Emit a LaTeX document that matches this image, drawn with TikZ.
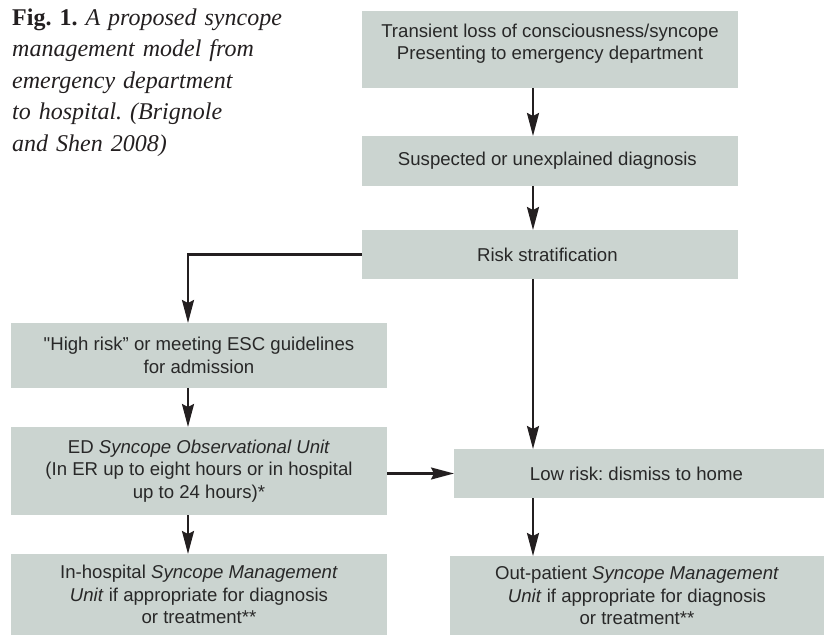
\documentclass[tikz,border=0pt]{standalone}
\usepackage{fontspec}
\setmainfont{Liberation Sans}
\newfontfamily\captionfont{Liberation Serif}
\newfontfamily\quotefont{Liberation Sans}
\usepackage{tikz}
\usetikzlibrary{positioning, calc, arrows.meta}
\definecolor{boxgray}{RGB}{203,212,208}
\definecolor{inkgray}{RGB}{35,31,32}
\definecolor{textgray}{RGB}{40,40,40}
\frenchspacing

\begin{document}
\begin{tikzpicture}[x=1pt, y=1pt,
    stage/.style={rectangle, 
      fill=boxgray, 
      text=textgray, 
      inner sep=0pt, 
      outer sep=0pt, 
      align=center, 
      font=\fontsize{18.6}{22.5}\selectfont, 
      minimum width=#1},
    flow/.style={-{Stealth[length=23pt, width=12pt, inset=3pt]}, 
      line width=2.2pt, 
      draw=inkgray}]
  \useasboundingbox (0,0) rectangle (824,635);

  % CAPTION

  \node [anchor=north west, 
    inner sep=0pt, 
    text width=300pt, 
    align=left, 
    text=inkgray, 
    font=\captionfont\fontsize{24.0}{31.5}\selectfont] (caption) at (12,626.6) {
    \textbf{Fig. 1.} \textit{A proposed syncope}\\
    \textit{management model from}\\
    \textit{emergency department}\\
    \textit{to hospital. (Brignole}\\
    \textit{and Shen 2008)}
  };

  % STAGES

  \node [stage=376pt, minimum height=77pt, 
    text depth=15pt] (transient) at (550,585.5) {
    Transient loss of consciousness/syncope\\
    Presenting to emergency department
  };

  \node [stage=376pt, minimum height=50pt, 
    below=48pt of transient] (suspected) {
    Suspected or unexplained diagnosis
  };

  \node [stage=376pt, minimum height=49pt, 
    below=44pt of suspected] (riskstrat) {
    Risk stratification
  };

  \node [stage=376pt, minimum height=65pt, 
    below left=44pt and -25pt of riskstrat.south west] (highrisk) {
    {\quotefont"}High risk” or meeting ESC guidelines\\
    for admission
  };

  \node [stage=376pt, minimum height=88pt, 
    below=39pt of highrisk] (observation) {
    ED \textit{Syncope Observational Unit}\\
    (In ER up to eight hours or in hospital\\
    up to 24 hours)*
  };

  \node [stage=376pt, minimum height=81pt, 
    below=39pt of observation] (inhospital) {
    In-hospital \textit{Syncope Management}\\
    \textit{Unit} if appropriate for diagnosis\\
    or treatment**
  };

  \node [stage=370pt, minimum height=49pt, 
    below right=170pt and 92pt of riskstrat.south west] (lowrisk) {
    Low risk: dismiss to home
  };

  \node [stage=374pt, minimum height=79pt, 
    below right=58pt and -4pt of lowrisk.south west] (outpatient) {
    Out-patient \textit{Syncope Management}\\
    \textit{Unit} if appropriate for diagnosis\\
    or treatment**
  };

  % FLOW

  \coordinate (rightaxis) at ($(transient.south)+(-17,0)$);
  \coordinate (leftaxis) at ($(highrisk.north)+(-11,0)$);

  \draw[flow] (transient.south -| rightaxis) -- (suspected.north -| rightaxis);
  \draw[flow] (suspected.south -| rightaxis) -- (riskstrat.north -| rightaxis);
  \draw[flow] (riskstrat.west) -| (highrisk.north -| leftaxis);
  \draw[flow] (riskstrat.south -| rightaxis) -- (lowrisk.north -| rightaxis);
  \draw[flow] (highrisk.south -| leftaxis) -- (observation.north -| leftaxis);
  \draw[flow] (observation.south -| leftaxis) -- (inhospital.north -| leftaxis);
  \draw[flow] (lowrisk.west -| observation.east) -- (lowrisk.west);
  \draw[flow] (lowrisk.south -| rightaxis) -- (outpatient.north -| rightaxis);

\end{tikzpicture}
\end{document}
